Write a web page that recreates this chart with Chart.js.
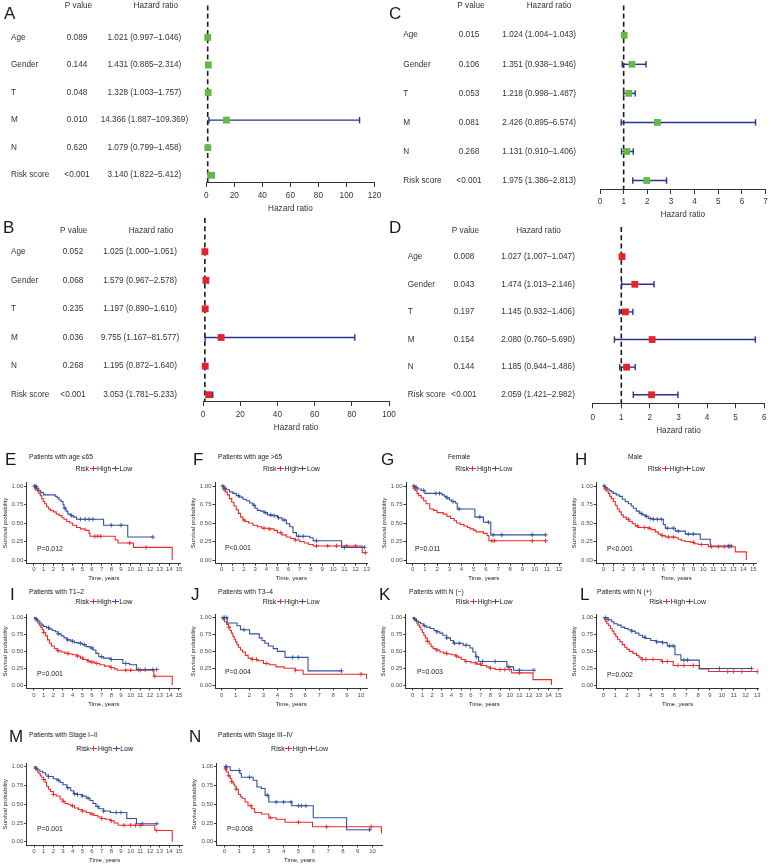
<!DOCTYPE html>
<html><head><meta charset="utf-8">
<script src="https://cdn.jsdelivr.net/npm/chart.js@4.4.1/dist/chart.umd.min.js"></script>
<style>
html,body{margin:0;padding:0;background:#fff;}
#root{position:relative;width:771px;height:867px;overflow:hidden;font-family:"Liberation Sans",Arial,Helvetica,sans-serif;color:#222;background:#fff;}
.abs{position:absolute;white-space:nowrap;}
canvas{position:absolute;}
.letter{font-size:17px;line-height:17px;color:#1a1a1a;}
.legend{font-size:7px;line-height:8px;text-align:center;color:#222;}
.seg{display:inline-block;position:relative;width:7px;height:5px;margin:0 0.5px;vertical-align:0px;}
.seg::before{content:'';position:absolute;left:0;right:0;top:2px;height:1px;background:currentColor;}
.seg::after{content:'';position:absolute;left:3px;top:0;width:1px;height:5px;background:currentColor;}
</style>
</head><body><div id="root"></div>
<script>
// ================= DATA: forest plots =================
const forestVars = ["Age","Gender","T","M","N","Risk score"];

const A_p  = ["0.089","0.144","0.048","0.010","0.620","<0.001"];
const A_hr = [1.021,1.431,1.328,14.366,1.079,3.140];
const A_lo = [0.997,0.885,1.003,1.887,0.799,1.822];
const A_hi = [1.046,2.314,1.757,109.369,1.458,5.412];
const A_ticks = [0,20,40,60,80,100,120];

const B_p  = ["0.052","0.068","0.235","0.036","0.268","<0.001"];
const B_hr = [1.025,1.579,1.197,9.755,1.195,3.053];
const B_lo = [1.000,0.967,0.890,1.167,0.872,1.781];
const B_hi = [1.051,2.578,1.610,81.577,1.640,5.233];
const B_ticks = [0,20,40,60,80,100];

const C_p  = ["0.015","0.106","0.053","0.081","0.268","<0.001"];
const C_hr = [1.024,1.351,1.218,2.426,1.131,1.975];
const C_lo = [1.004,0.938,0.998,0.895,0.910,1.386];
const C_hi = [1.043,1.946,1.487,6.574,1.406,2.813];
const C_ticks = [0,1,2,3,4,5,6,7];

const D_p  = ["0.008","0.043","0.197","0.154","0.144","<0.001"];
const D_hr = [1.027,1.474,1.145,2.080,1.185,2.059];
const D_lo = [1.007,1.013,0.932,0.760,0.944,1.421];
const D_hi = [1.047,2.146,1.406,5.690,1.486,2.982];
const D_ticks = [0,1,2,3,4,5,6];

// ================= DATA: Kaplan-Meier curves =================
const kmYTicks = [0,0.25,0.5,0.75,1];

const E_title = "Patients with age \u226465", E_pval = "P=0.012";
const E_xticks = [0,1,2,3,4,5,6,7,8,9,10,11,12,13,14,15];
const E_high_t = [0,0.1,0.2,0.35,0.5,0.65,0.8,0.95,1.1,1.3,1.5,1.7,2.0,2.3,2.6,2.9,3.1,3.4,3.7,4.0,4.4,4.8,5.3,5.7,5.8,8.4,8.7,10.3,14.3];
const E_high_s = [1,0.98,0.96,0.93,0.90,0.87,0.83,0.79,0.76,0.72,0.69,0.67,0.65,0.62,0.60,0.57,0.55,0.52,0.50,0.47,0.44,0.42,0.40,0.36,0.32,0.27,0.23,0.17,0];
const E_low_t  = [0,0.1,0.3,0.5,0.7,1.0,2.2,2.4,2.6,2.8,3.0,3.1,3.3,3.5,3.8,4.1,4.4,7.2,9.7,12.3];
const E_low_s  = [1,0.99,0.97,0.94,0.91,0.88,0.86,0.84,0.81,0.79,0.75,0.70,0.66,0.62,0.60,0.58,0.55,0.47,0.31,0.31];
const E_high_cens = [0.2,6.3,6.6,6.9,9.9,11.6];
const E_low_cens  = [0.05,0.15,0.25,3.2,3.9,4.8,5.3,5.7,6.1,8.0,9.0,12.3];

const F_title = "Patients with age >65", F_pval = "P<0.001";
const F_xticks = [0,1,2,3,4,5,6,7,8,9,10,11,12,13];
const F_high_t = [0,0.15,0.3,0.5,0.7,0.9,1.1,1.3,1.5,1.7,1.9,2.1,2.4,2.8,3.2,3.6,4.2,4.7,5.0,5.4,5.8,6.2,6.6,7.0,7.4,7.8,8.2,12.6,13.0];
const F_high_s = [1,0.96,0.92,0.88,0.83,0.78,0.73,0.68,0.63,0.58,0.54,0.52,0.50,0.47,0.45,0.43,0.42,0.40,0.37,0.34,0.31,0.29,0.27,0.25,0.23,0.21,0.19,0.10,0.10];
const F_low_t  = [0,0.2,0.4,0.7,1.0,1.3,1.6,1.9,2.2,2.5,2.8,3.0,3.2,3.5,3.8,4.1,4.5,5.0,5.4,5.8,6.1,6.4,6.7,7.9,8.2,10.75,12.85];
const F_low_s  = [1,0.97,0.95,0.92,0.90,0.87,0.85,0.82,0.80,0.77,0.74,0.70,0.67,0.66,0.64,0.61,0.60,0.57,0.54,0.49,0.45,0.37,0.32,0.30,0.26,0.17,0.17];
const F_high_cens = [0.2,2.0,3.8,4.3,5.3,6.6,8.5,9.5,10.3,11.2,12.0,12.9];
const F_low_cens  = [0.1,0.3,1.5,2.9,3.9,4.4,4.7,5.1,5.6,6.9,7.3,8.5,11.0,12.8];

const G_title = "Female", G_pval = "P=0.011";
const G_xticks = [0,1,2,3,4,5,6,7,8,9,10,11,12];
const G_high_t = [0,0.1,0.2,0.35,0.5,0.7,0.9,1.1,1.4,1.7,2.0,2.5,2.8,3.1,3.4,3.6,3.9,4.2,4.5,4.7,5.0,5.2,5.8,6.1,6.25,10.9];
const G_high_s = [1,0.97,0.94,0.90,0.87,0.84,0.80,0.76,0.69,0.67,0.64,0.62,0.59,0.56,0.53,0.50,0.48,0.46,0.44,0.42,0.40,0.38,0.36,0.33,0.26,0.26];
const G_low_t  = [0,0.2,0.4,0.7,1.0,2.4,2.6,2.8,3.0,3.2,3.5,3.65,5.1,5.8,6.4,10.9];
const G_low_s  = [1,0.98,0.96,0.94,0.90,0.88,0.86,0.84,0.81,0.79,0.77,0.69,0.58,0.51,0.34,0.34];
const G_high_cens = [0.15,6.5,6.7,9.8,10.9];
const G_low_cens  = [0.1,0.3,0.9,1.9,2.2,2.8,3.3,3.8,5.5,6.2,6.6,7.3,9.8,10.9];

const H_title = "Male", H_pval = "P<0.001";
const H_xticks = [0,1,2,3,4,5,6,7,8,9,10,11,12,13,14,15];
const H_high_t = [0,0.1,0.2,0.35,0.5,0.65,0.8,1.0,1.2,1.4,1.6,1.8,2.0,2.3,2.6,2.9,3.2,3.5,4.5,4.8,5.2,5.5,5.8,6.2,7.2,7.5,7.8,8.2,8.7,9.1,9.5,10.5,13.2,14.3];
const H_high_s = [1,0.98,0.96,0.93,0.90,0.86,0.83,0.79,0.74,0.69,0.65,0.61,0.58,0.55,0.52,0.49,0.46,0.44,0.43,0.41,0.38,0.35,0.33,0.31,0.30,0.28,0.26,0.25,0.24,0.22,0.21,0.18,0.11,0];
const H_low_t  = [0,0.2,0.4,0.6,0.8,1.0,1.3,1.6,1.9,2.2,2.5,2.8,3.0,3.3,3.6,3.9,4.2,4.5,5.0,6.0,6.2,7.2,8.2,9.7,10.7,12.8];
const H_low_s  = [1,0.98,0.96,0.94,0.92,0.90,0.88,0.86,0.82,0.79,0.76,0.73,0.70,0.66,0.63,0.61,0.59,0.56,0.55,0.48,0.43,0.39,0.35,0.28,0.19,0.19];
const H_high_cens = [0.2,2.5,3.4,4.1,4.6,5.9,6.5,7.0,9.0,9.8,10.8,11.5,12.1,12.6];
const H_low_cens  = [0.1,3.8,4.3,4.7,5.0,5.4,5.8,6.4,7.0,7.5,8.5,9.0,12.5,12.8];

const I_title = "Patients with T1\u20132", I_pval = "P=0.001";
const I_xticks = [0,1,2,3,4,5,6,7,8,9,10,11,12,13,14,15];
const I_high_t = [0,0.1,0.25,0.4,0.55,0.7,0.85,1.0,1.2,1.4,1.6,1.8,2.1,2.4,2.8,3.2,3.6,4.0,4.4,4.8,5.1,5.5,5.8,6.3,6.8,7.3,7.9,8.3,8.6,12.4,14.3];
const I_high_s = [1,0.98,0.95,0.92,0.89,0.86,0.82,0.78,0.73,0.67,0.62,0.58,0.54,0.51,0.49,0.47,0.46,0.45,0.43,0.40,0.38,0.36,0.34,0.32,0.30,0.28,0.26,0.24,0.22,0.13,0];
const I_low_t  = [0,0.2,0.4,0.6,0.8,1.0,1.3,1.6,1.9,2.2,2.5,2.8,3.1,3.4,3.8,4.2,4.6,5.0,5.4,5.8,6.1,6.4,6.7,7.2,7.9,9.2,9.9,10.6,12.7];
const I_low_s  = [1,0.98,0.95,0.92,0.89,0.87,0.85,0.83,0.81,0.79,0.76,0.73,0.70,0.67,0.65,0.63,0.62,0.60,0.57,0.55,0.52,0.47,0.42,0.40,0.38,0.32,0.30,0.23,0.23];
const I_high_cens = [1.0,2.5,3.5,4.5,5.0,5.6,6.0,6.5,8.0,9.5,10.0,11.0,12.5];
const I_low_cens  = [0.2,1.5,2.5,3.5,4.0,4.8,5.2,6.0,7.0,8.0,9.5,10.8,11.5,12.3,12.7];

const J_title = "Patients with T3\u20134", J_pval = "P=0.004";
const J_xticks = [0,1,2,3,4,5,6,7,8,9,10];
const J_high_t = [0,0.1,0.2,0.35,0.5,0.6,0.7,0.8,0.9,1.0,1.1,1.2,1.35,1.5,1.7,1.9,2.2,2.6,3.0,3.4,3.9,4.5,5.3,5.85,10.4];
const J_high_s = [1,0.97,0.94,0.90,0.86,0.81,0.77,0.72,0.68,0.64,0.60,0.56,0.52,0.49,0.44,0.40,0.38,0.36,0.32,0.30,0.27,0.25,0.22,0.16,0.09];
const J_low_t  = [0,0.4,1.1,1.35,2.0,2.7,2.9,3.1,3.35,3.7,4.0,4.55,6.2,8.6];
const J_low_s  = [1,0.92,0.88,0.82,0.76,0.70,0.66,0.62,0.58,0.54,0.50,0.41,0.21,0.21];
const J_high_cens = [0.5,2.2,2.5,3.2,5.3,10.0];
const J_low_cens  = [0.1,0.2,0.35,1.6,5.1,5.5,8.6];

const K_title = "Patients with N (\u2212)", K_pval = "P=0.003";
const K_xticks = [0,1,2,3,4,5,6,7,8,9,10,11,12,13,14,15];
const K_high_t = [0,0.1,0.25,0.4,0.55,0.7,0.85,1.0,1.15,1.3,1.5,1.7,1.9,2.1,2.4,2.8,3.2,3.6,4.0,4.4,4.7,5.0,5.4,6.0,6.6,7.1,7.6,8.0,8.5,10.2,12.4,14.3];
const K_high_s = [1,0.98,0.95,0.92,0.89,0.86,0.82,0.78,0.74,0.70,0.65,0.61,0.57,0.54,0.52,0.49,0.47,0.46,0.45,0.43,0.41,0.38,0.35,0.33,0.31,0.29,0.27,0.25,0.23,0.18,0.08,0];
const K_low_t  = [0,0.2,0.4,0.6,0.8,1.1,1.4,1.8,2.2,2.5,2.8,3.1,3.5,3.9,4.2,5.2,5.9,6.2,6.5,6.8,9.7,10.4,12.5];
const K_low_s  = [1,0.98,0.95,0.93,0.91,0.88,0.86,0.84,0.81,0.79,0.77,0.74,0.70,0.66,0.62,0.59,0.55,0.49,0.42,0.35,0.27,0.22,0.22];
const K_high_cens = [1.5,2.5,3.5,4.5,5.5,6.5,7.0,8.0,9.0,9.5,10.0,11.0];
const K_low_cens  = [0.2,1.2,2.5,3.5,4.3,4.8,5.5,6.6,7.2,8.5,9.9,11.0,12.5];

const L_title = "Patients with N (+)", L_pval = "P=0.002";
const L_xticks = [0,1,2,3,4,5,6,7,8,9,10,11,12,13];
const L_high_t = [0,0.1,0.2,0.3,0.45,0.6,0.75,0.9,1.05,1.2,1.4,1.6,1.8,2.0,2.2,2.5,2.8,3.0,3.2,4.9,5.9,8.1,8.9,13.0];
const L_high_s = [1,0.97,0.94,0.91,0.88,0.84,0.80,0.76,0.72,0.68,0.64,0.60,0.56,0.53,0.50,0.47,0.44,0.41,0.38,0.35,0.29,0.24,0.20,0.20];
const L_low_t  = [0,0.4,0.7,0.9,1.2,1.5,1.8,2.1,2.4,2.7,3.0,3.3,3.6,4.0,4.5,5.0,5.4,6.05,6.55,8.1,12.5];
const L_low_s  = [1,0.97,0.94,0.91,0.89,0.86,0.84,0.82,0.80,0.77,0.74,0.71,0.69,0.66,0.64,0.63,0.58,0.45,0.37,0.245,0.245];
const L_high_cens = [3.3,3.6,4.2,5.0,5.4,6.3,6.8,7.6,10.5,11.0,11.7,13.0];
const L_low_cens  = [0.2,0.4,2.4,3.5,4.5,5.0,5.6,5.9,6.8,7.1,9.8,12.5];

const M_title = "Patients with Stage I\u2013II", M_pval = "P=0.001";
const M_xticks = [0,1,2,3,4,5,6,7,8,9,10,11,12,13,14,15];
const M_high_t = [0,0.1,0.2,0.35,0.5,0.65,0.8,1.0,1.15,1.3,1.5,1.7,2.0,2.3,2.7,3.0,3.2,3.5,3.8,4.2,4.6,5.0,5.4,5.8,6.2,6.6,7.0,7.4,7.9,8.3,8.7,12.5,14.3];
const M_high_s = [1,0.98,0.96,0.93,0.91,0.88,0.86,0.83,0.79,0.74,0.70,0.67,0.63,0.61,0.57,0.54,0.51,0.50,0.48,0.45,0.43,0.41,0.39,0.37,0.35,0.33,0.31,0.30,0.28,0.25,0.22,0.15,0];
const M_low_t  = [0,0.2,0.4,0.6,0.9,1.2,1.5,2.0,2.4,2.7,3.0,3.4,3.8,4.1,4.5,5.0,5.4,5.8,6.1,6.4,6.7,7.2,7.9,9.6,10.6,12.7];
const M_low_s  = [1,0.98,0.96,0.94,0.92,0.89,0.87,0.84,0.82,0.79,0.76,0.72,0.68,0.64,0.63,0.61,0.58,0.55,0.51,0.47,0.44,0.41,0.39,0.31,0.24,0.24];
const M_high_cens = [1.0,2.0,3.0,4.0,5.0,6.0,7.0,8.0,9.3,10.0,10.5,11.0,12.7];
const M_low_cens  = [0.2,1.5,2.5,3.5,4.2,4.5,5.0,5.6,6.6,7.2,8.5,9.0,11.2,12.7];

const N_title = "Patients with Stage III\u2013IV", N_pval = "P=0.008";
const N_xticks = [0,1,2,3,4,5,6,7,8,9,10];
const N_high_t = [0,0.05,0.15,0.27,0.4,0.5,0.6,0.7,0.8,0.95,1.1,1.2,1.4,1.6,1.85,2.05,2.5,3.0,3.5,4.1,5.95,10.6];
const N_high_s = [1,0.97,0.93,0.88,0.84,0.80,0.77,0.74,0.70,0.63,0.60,0.58,0.53,0.48,0.44,0.39,0.37,0.32,0.30,0.26,0.20,0.11];
const N_low_t  = [0,0.4,1.05,1.15,1.95,2.2,2.5,2.75,3.0,4.55,6.0,8.25,9.9];
const N_low_s  = [1,0.95,0.91,0.86,0.82,0.73,0.71,0.62,0.53,0.48,0.32,0.16,0.16];
const N_high_cens = [0.1,0.3,0.5,0.8,1.8,3.1,5.0,6.9,9.9];
const N_low_cens  = [0.1,0.15,1.0,1.7,2.9,3.5,4.0,4.5,5.0,5.2,5.5,9.8];

// ================= STYLE / LAYOUT =================
const FONT = '"Liberation Sans", Arial, Helvetica, sans-serif';
const RED = '#EC2B28', BLUE = '#3350A0', NAVY = '#28348C', GREEN = '#62B946', SQRED = '#E5232A';
const FFS = 8.2; // forest font size
Chart.defaults.font.family = FONT;

const root = document.getElementById('root');

function addText(txt, x, cy, size, color, cls) {
  const d = document.createElement('div');
  d.className = 'abs' + (cls ? ' ' + cls : '');
  d.textContent = txt;
  d.style.left = x + 'px';
  d.style.top = (cy - size / 2) + 'px';
  d.style.fontSize = size + 'px';
  d.style.lineHeight = size + 'px';
  if (color) d.style.color = color;
  root.appendChild(d);
  return d;
}
function addLetter(ch, x, capTop) {
  const d = document.createElement('div');
  d.className = 'abs letter';
  d.textContent = ch;
  d.style.left = x + 'px';
  d.style.top = (capTop - 2.2) + 'px';
  root.appendChild(d);
}
function addLegend(left, w, cy) {
  const d = document.createElement('div');
  d.className = 'abs legend';
  d.style.left = left + 'px'; d.style.width = w + 'px'; d.style.top = (cy - 4) + 'px';
  d.innerHTML = '<span>Risk</span><i class="seg" style="color:' + RED + '"></i><span>High</span><i class="seg" style="color:' + BLUE + '"></i><span>Low</span>';
  root.appendChild(d);
}
function makeCanvas(x, y, w, h) {
  const cv = document.createElement('canvas');
  cv.width = w; cv.height = h;
  cv.style.left = x + 'px'; cv.style.top = y + 'px';
  cv.style.width = w + 'px'; cv.style.height = h + 'px';
  root.appendChild(cv);
  return cv;
}

// ---------- forest plots ----------
const forestLayout = {
  A: {cx:0,   cy:0,   cw:385, ch:216, plotLeft:206.3, plotRight:376.7, plotTop:0,   plotBottom:182,   xh:31.9, tickPad:3.7, ymin:-1.162, ymax:5.246,
      labX:11, pC:77, hrC:144.4, pHead:78.5, hrHead:155.8, headY:5.7},
  B: {cx:0,   cy:210, cw:400, ch:225, plotLeft:203,   plotRight:392.5, plotTop:218, plotBottom:401,   xh:31.6, tickPad:4.1, ymin:-1.178, ymax:5.22,
      labX:11, pC:73, hrC:140, pHead:73.7, hrHead:151, headY:230.5},
  C: {cx:385, cy:0,   cw:386, ch:222, plotLeft:600,   plotRight:766,   plotTop:0,   plotBottom:189,   xh:30.2, tickPad:2.8, ymin:-1.026, ymax:5.29,
      labX:403.3, pC:469, hrC:539.2, pHead:471, hrHead:549, headY:5.7},
  D: {cx:385, cy:215, cw:386, ch:225, plotLeft:592.7, plotRight:766,   plotTop:227, plotBottom:403.3, xh:32.6, tickPad:4.5, ymin:-1.076, ymax:5.31,
      labX:407.7, pC:464, hrC:538, pHead:465.5, hrHead:538.5, headY:230.5}
};

function forest(key, p, hr, lo, hi, ticks, sqColor) {
  const Lo = forestLayout[key];
  const cv = makeCanvas(Lo.cx, Lo.cy, Lo.cw, Lo.ch);
  const padLeft = Lo.plotLeft - Lo.cx, padRight = Lo.cx + Lo.cw - Lo.plotRight, padTop = Lo.plotTop - Lo.cy;
  const padBottom = Lo.ch - (Lo.plotBottom - Lo.cy) - Lo.xh;
  const ds = [];
  ds.push({data:[{x:1,y:Lo.ymin},{x:1,y:Lo.ymax}], borderColor:'#1a1a1a', borderWidth:1.6, borderDash:[5,3.2], pointRadius:0, order:5, clip:false});
  forestVars.forEach((v,i) => {
    ds.push({data:[{x:lo[i],y:i},{x:hi[i],y:i}], borderColor:NAVY, borderWidth:1.4, pointRadius:0, order:4, clip:false});
  });
  ds.push({data: lo.map((v,i)=>({x:v,y:i})).concat(hi.map((v,i)=>({x:v,y:i}))), showLine:false, pointStyle:'line', rotation:90,
           pointRadius:3.2, borderColor:NAVY, borderWidth:1.4, order:3, clip:false});
  ds.push({data: hr.map((v,i)=>({x:v,y:i})), showLine:false, pointStyle:'rect', pointRadius:4.8, backgroundColor:sqColor, borderColor:sqColor,
           borderWidth:0, order:1, clip:false});
  const hrText = hr.map((h,i)=> h.toFixed(3) + ' (' + lo[i].toFixed(3) + '\u2013' + hi[i].toFixed(3) + ')');
  const table = {
    id: 'table' + key,
    afterDraw(chart) {
      const ctx = chart.ctx, ys = chart.scales.y;
      ctx.save();
      ctx.font = FFS + 'px ' + FONT; ctx.fillStyle = '#333'; ctx.textBaseline = 'middle';
      ctx.textAlign = 'center';
      ctx.fillText('P value', Lo.pHead - Lo.cx, Lo.headY - Lo.cy);
      ctx.fillText('Hazard ratio', Lo.hrHead - Lo.cx, Lo.headY - Lo.cy);
      forestVars.forEach((v,i) => {
        const y = ys.getPixelForValue(i);
        ctx.textAlign = 'left'; ctx.fillText(v, Lo.labX - Lo.cx, y);
        ctx.textAlign = 'center';
        ctx.fillText(p[i], Lo.pC - Lo.cx, y);
        ctx.fillText(hrText[i], Lo.hrC - Lo.cx, y);
      });
      ctx.restore();
    }
  };
  new Chart(cv, {
    type: 'line',
    data: {datasets: ds},
    options: {
      responsive:false, animation:false, devicePixelRatio:1,
      layout: {padding:{left:padLeft, right:padRight, top:padTop, bottom:padBottom}},
      plugins: {legend:{display:false}, tooltip:{enabled:false}},
      scales: {
        x: {type:'linear', min:ticks[0], max:ticks[ticks.length-1],
            afterBuildTicks: s => { s.ticks = ticks.map(v => ({value:v})); },
            afterFit: s => { s.height = Lo.xh; },
            grid: {display:true, drawOnChartArea:false, drawTicks:true, tickLength:5, tickColor:'#333', tickWidth:1},
            border: {display:true, color:'#333', width:1},
            ticks: {font:{size:FFS}, color:'#333', padding:Lo.tickPad, maxRotation:0, autoSkip:false},
            title: {display:true, text:'Hazard ratio', font:{size:FFS}, color:'#333', padding:{top:0,bottom:0}}},
        y: {type:'linear', display:false, reverse:true, min:Lo.ymin, max:Lo.ymax}
      }
    },
    plugins: [table]
  });
}

// ---------- Kaplan-Meier ----------
const kmRows = {
  1: {top:482.3, bottom:563.7, xh:18.0, xpad:0,   titleY:457.5, legendY:469,   letterTop:453},
  2: {top:614.3, bottom:688.4, xh:19.2, xpad:1,   titleY:592.5, legendY:601.5, letterTop:588},
  3: {top:763,   bottom:845.5, xh:18.1, xpad:0.6, titleY:735,   legendY:749.3, letterTop:730}
};
const kmLayout = {
  E:{row:1, L:26.75, R:180.9, xmin:-0.75, xmax:15.2,  titleX:29,  pX:37,  pY:549,   letterX:5},
  F:{row:1, L:215,   R:367.8, xmin:-0.6,  xmax:13.1,  titleX:218, pX:225, pY:548,   letterX:193},
  G:{row:1, L:406,   R:561.5, xmin:-0.55, xmax:12.2,  titleX:448, pX:415, pY:549,   letterX:381},
  H:{row:1, L:596.3, R:756.3, xmin:-0.7,  xmax:15.3,  titleX:628, pX:607, pY:549,   letterX:575},
  I:{row:2, L:26.75, R:180.9, xmin:-0.75, xmax:15.2,  titleX:29,  pX:37,  pY:674,   letterX:10},
  J:{row:2, L:215,   R:367.2, xmin:-0.48, xmax:10.45, titleX:218, pX:225, pY:672.3, letterX:191},
  K:{row:2, L:405.9, R:562.6, xmin:-0.7,  xmax:15.45, titleX:409, pX:417, pY:672,   letterX:379},
  L:{row:2, L:596.7, R:758.5, xmin:-0.56, xmax:13.1,  titleX:597, pX:607, pY:675.7, letterX:580},
  M:{row:3, L:26.75, R:182.4, xmin:-0.75, xmax:15.35, titleX:29,  pX:37,  pY:829,   letterX:9},
  N:{row:3, L:216.6, R:382.5, xmin:-0.52, xmax:10.67, titleX:218, pX:227, pY:829,   letterX:189}
};

function stepAt(t, T, S) {
  let v = S[0];
  for (let i = 0; i < T.length; i++) { if (T[i] <= t) v = S[i]; else break; }
  return v;
}

function km(key, title, pval, xticks, ht, hs, lt, ls, hc, lc) {
  const Lo = kmLayout[key], Rw = kmRows[Lo.row];
  const cx = Math.max(0, Math.floor(Lo.L - 27));
  const cy = Math.floor(Rw.top - 5);
  const cw = Math.ceil(Lo.R + 7 - cx);
  const ch = Math.ceil(Rw.bottom + Rw.xh - cy) + 1;
  const yw = Lo.L - cx;
  const padRight = cx + cw - Lo.R, padTop = Rw.top - cy;
  const padBottom = ch - (Rw.bottom - cy) - Rw.xh;
  const cv = makeCanvas(cx, cy, cw, ch);
  const pts = (T, S) => T.map((t,i) => ({x:t, y:S[i]}));
  const cens = (C, T, S) => C.map(c => ({x:c, y:stepAt(c, T, S)}));
  const ds = [
    {data:pts(ht,hs), borderColor:RED,  borderWidth:1.1, stepped:true, pointRadius:0, order:3},
    {data:pts(lt,ls), borderColor:BLUE, borderWidth:1.1, stepped:true, pointRadius:0, order:2},
    {data:cens(hc,ht,hs), showLine:false, pointStyle:'cross', pointRadius:2.2, borderColor:RED,  borderWidth:0.9, order:1},
    {data:cens(lc,lt,ls), showLine:false, pointStyle:'cross', pointRadius:2.2, borderColor:BLUE, borderWidth:0.9, order:0}
  ];
  new Chart(cv, {
    type:'line',
    data:{datasets:ds},
    options:{
      responsive:false, animation:false, devicePixelRatio:1,
      layout:{padding:{left:0, right:padRight, top:padTop, bottom:padBottom}},
      plugins:{legend:{display:false}, tooltip:{enabled:false}},
      scales:{
        x:{type:'linear', min:Lo.xmin, max:Lo.xmax,
           afterBuildTicks: s => { s.ticks = xticks.map(v => ({value:v})); },
           afterFit: s => { s.height = Rw.xh; },
           grid:{display:true, drawOnChartArea:false, drawTicks:true, tickLength:2, tickColor:'#333', tickWidth:1},
           border:{display:true, color:'#333', width:1},
           ticks:{font:{size:6}, color:'#4d4d4d', padding:Rw.xpad, maxRotation:0, autoSkip:false},
           title:{display:true, text:'Time, years', font:{size:6}, color:'#222', padding:{top:0,bottom:0}}},
        y:{type:'linear', min:-0.05, max:1.05,
           afterBuildTicks: s => { s.ticks = kmYTicks.map(v => ({value:v})); },
           afterFit: s => { s.width = yw; },
           grid:{display:true, drawOnChartArea:false, drawTicks:true, tickLength:2.5, tickColor:'#333', tickWidth:1},
           border:{display:true, color:'#333', width:1},
           ticks:{font:{size:6}, color:'#4d4d4d', padding:1, callback: v => Number(v).toFixed(2)},
           title:{display:true, text:'Survival probability', font:{size:6}, color:'#222', padding:{top:1.5,bottom:0}}}
      }
    }
  });
  addLetter(key, Lo.letterX, Rw.letterTop);
  addText(title, Lo.titleX, Rw.titleY, 6.7, '#222');
  addLegend(Lo.L, Lo.R - Lo.L, Rw.legendY);
  addText(pval, Lo.pX, Lo.pY, 6.9, '#222');
}

// ---------- build ----------
forest('A', A_p, A_hr, A_lo, A_hi, A_ticks, GREEN);
forest('B', B_p, B_hr, B_lo, B_hi, B_ticks, SQRED);
forest('C', C_p, C_hr, C_lo, C_hi, C_ticks, GREEN);
forest('D', D_p, D_hr, D_lo, D_hi, D_ticks, SQRED);
addLetter('A', 4, 7);
addLetter('B', 3, 221);
addLetter('C', 389, 6.7);
addLetter('D', 389, 221);

km('E', E_title, E_pval, E_xticks, E_high_t, E_high_s, E_low_t, E_low_s, E_high_cens, E_low_cens);
km('F', F_title, F_pval, F_xticks, F_high_t, F_high_s, F_low_t, F_low_s, F_high_cens, F_low_cens);
km('G', G_title, G_pval, G_xticks, G_high_t, G_high_s, G_low_t, G_low_s, G_high_cens, G_low_cens);
km('H', H_title, H_pval, H_xticks, H_high_t, H_high_s, H_low_t, H_low_s, H_high_cens, H_low_cens);
km('I', I_title, I_pval, I_xticks, I_high_t, I_high_s, I_low_t, I_low_s, I_high_cens, I_low_cens);
km('J', J_title, J_pval, J_xticks, J_high_t, J_high_s, J_low_t, J_low_s, J_high_cens, J_low_cens);
km('K', K_title, K_pval, K_xticks, K_high_t, K_high_s, K_low_t, K_low_s, K_high_cens, K_low_cens);
km('L', L_title, L_pval, L_xticks, L_high_t, L_high_s, L_low_t, L_low_s, L_high_cens, L_low_cens);
km('M', M_title, M_pval, M_xticks, M_high_t, M_high_s, M_low_t, M_low_s, M_high_cens, M_low_cens);
km('N', N_title, N_pval, N_xticks, N_high_t, N_high_s, N_low_t, N_low_s, N_high_cens, N_low_cens);
</script>
</body></html>
